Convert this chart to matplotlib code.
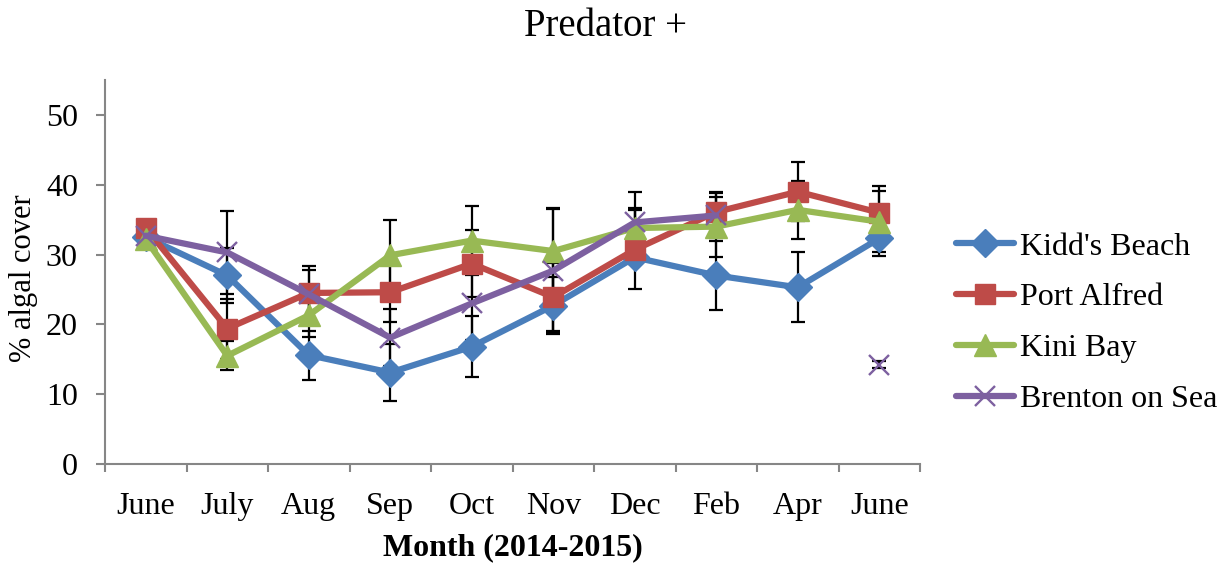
import numpy as np
import matplotlib
matplotlib.use("Agg")
import matplotlib.pyplot as plt
from matplotlib.ticker import FixedLocator, NullFormatter

plt.rcParams['font.family'] = ['Liberation Serif', 'DejaVu Serif']

months = ["June", "July", "Aug", "Sep", "Oct", "Nov", "Dec", "Feb", "Apr", "June"]

kidds = [32.5, 27.0, 15.6, 13.1, 16.8, 22.7, 29.6, 27.0, 25.3, 32.3]
kidds_err = [0.6, 4.0, 3.5, 4.1, 4.4, 4.1, 1.0, 5.0, 5.0, 2.5]

port = [33.8, 19.4, 24.5, 24.6, 28.7, 23.9, 30.7, 36.1, 39.0, 36.0]
port_err = [0.5, 4.3, 3.8, 4.3, 4.8, 4.9, 5.7, 2.8, 4.2, 3.8]

kini = [32.2, 15.5, 21.3, 29.9, 32.0, 30.5, 33.8, 34.0, 36.4, 34.7]
kini_err = [0.5, 2.1, 3.1, 5.1, 4.9, 6.2, 2.9, 4.3, 4.2, 4.4]

brenton = [32.7, 30.3, 24.3, 18.1, 23.0, 27.7, 34.6, 35.6, np.nan, 14.2]
brenton_err = [0.5, 5.9, 3.5, 4.1, 5.2, 8.8, 4.4, 3.2, np.nan, 0.5]

series = [
    ("Kidd's Beach", kidds, kidds_err, "#4A7EBB", "D", 14, None),
    ("Port Alfred", port, port_err, "#BE4B48", "s", 15, None),
    ("Kini Bay", kini, kini_err, "#98B954", "^", 16, None),
    ("Brenton on Sea", brenton, brenton_err, "#7D60A0", "x", 14, 1.7),
]

fig = plt.figure(figsize=(12.3, 5.63), dpi=100)
ax = fig.add_axes([105 / 1230, 1 - 464 / 563, (920 - 105) / 1230, (464 - 80) / 563])

x = np.arange(len(months))
handles = []
for i, (name, vals, errs, color, marker, ms, mew) in enumerate(series):
    vals = np.array(vals, dtype=float)
    errs = np.array(errs, dtype=float)
    ax.errorbar(x, vals, yerr=errs, fmt='none', ecolor='black',
                elinewidth=1.6, capsize=5, capthick=1.6, zorder=2 + i * 0.1)
    kw = dict(color=color, lw=4.5, marker=marker, markersize=ms,
              markerfacecolor=color, markeredgecolor=color,
              solid_capstyle='round', zorder=3 + i)
    if mew is not None:
        kw['markeredgewidth'] = mew
    line, = ax.plot(x, vals, label=name, **kw)
    handles.append(line)

ax.set_xlim(-0.5, len(months) - 0.5)
ax.set_ylim(0, 55)
ax.set_yticks([0, 10, 20, 30, 40, 50])

ax.set_xticks(x)
ax.set_xticklabels(months)
ax.xaxis.set_minor_locator(FixedLocator(np.arange(-0.5, len(months), 1.0)))
ax.xaxis.set_minor_formatter(NullFormatter())
ax.tick_params(axis='x', which='major', length=0, pad=20, labelsize=23)
ax.tick_params(axis='x', which='minor', length=6, width=1.5, color='#868686',
               direction='out')
ax.tick_params(axis='y', length=6.5, width=1.5, color='#868686',
               direction='out', pad=13, labelsize=23)

for side in ('top', 'right'):
    ax.spines[side].set_visible(False)
for side in ('left', 'bottom'):
    ax.spines[side].set_color('#868686')
    ax.spines[side].set_linewidth(1.5)

ax.set_xlabel("Month (2014-2015)", fontsize=23, fontweight='bold', labelpad=9)
ax.set_ylabel("% algal cover", fontsize=22)
ax.yaxis.set_label_coords(-0.082, 0.484)
fig.text(0.492, 1 - 26 / 563, "Predator +", fontsize=28, ha='center', va='center')

fig.legend(handles=handles, loc='center left', bbox_to_anchor=(956 / 1230, 1 - 323 / 563),
           frameon=False, fontsize=23, handlelength=1.8, handletextpad=0.2,
           labelspacing=0.67, borderpad=0, borderaxespad=0)

fig.savefig("out.png", dpi=100)
